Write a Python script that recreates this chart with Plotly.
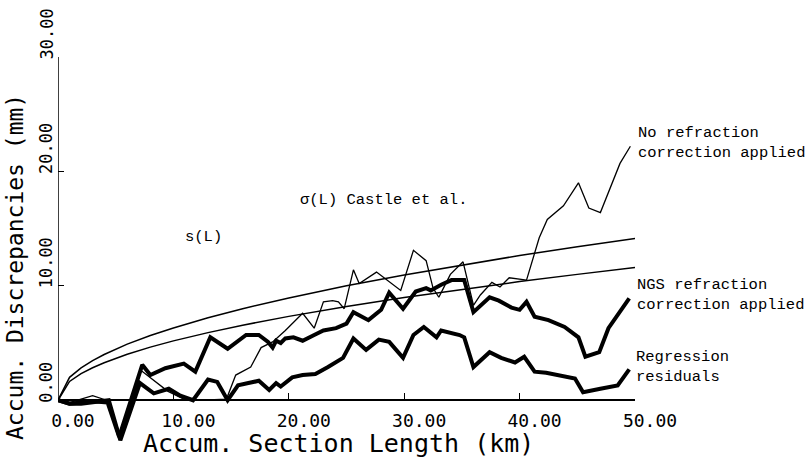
import plotly.graph_objects as go

# ---- data ----
no_refr_x = [0, 1.0, 2.0, 3.0, 4.2, 5.4, 7.2, 9.5, 10.9, 12.5, 14.6, 15.4, 16.7, 17.6, 18.6, 19.7,
             21.2, 22.2, 23.0, 23.8, 24.3, 24.8, 25.6, 26.1, 27.6, 29.7, 30.8, 31.9, 32.5, 33.0,
             33.4, 34.0, 35.1, 36.0, 36.6, 37.6, 38.3, 39.1, 40.6, 41.7, 42.4, 43.8, 45.1, 46.0,
             47.0, 48.7, 49.6]
no_refr_y = [0, -0.2, 0.1, 0.4, 0.0, -3.0, 2.6, 0.8, 0.1, 0.0, 0.1, 2.2, 2.9, 4.6, 5.1, 6.1,
             7.6, 6.3, 8.6, 8.7, 8.6, 8.0, 11.4, 10.2, 11.2, 9.6, 13.1, 12.2, 9.8, 9.0,
             9.8, 11.0, 12.1, 8.3, 9.2, 10.3, 9.9, 10.7, 10.5, 14.2, 15.8, 17.0, 19.0, 16.8,
             16.4, 20.7, 22.2]

ngs_x = [0, 1.0, 2.0, 3.0, 4.3, 5.3, 7.3, 8.0, 9.3, 10.9, 11.9, 13.2, 14.7, 15.4, 16.3, 17.4,
         18.2, 18.6, 18.9, 19.3, 19.7, 20.4, 21.2, 22.2, 23.0, 24.1, 25.0, 25.6, 26.9, 28.0,
         28.7, 29.9, 31.0, 31.9, 32.3, 33.2, 34.1, 35.2, 36.0, 37.4, 38.2, 39.3, 40.0, 40.6,
         41.3, 42.5, 43.9, 45.1, 45.7, 46.9, 47.7, 49.5]
ngs_y = [0, -0.3, -0.2, -0.1, -0.2, -3.2, 3.1, 2.2, 2.8, 3.2, 2.5, 5.5, 4.5, 5.0, 5.7, 5.7,
         5.1, 4.6, 5.2, 5.0, 5.4, 5.5, 5.2, 5.7, 6.1, 6.3, 6.7, 7.7, 7.0, 7.9,
         9.4, 8.0, 9.5, 9.8, 9.6, 10.1, 10.5, 10.5, 7.7, 9.0, 8.7, 8.1, 7.9, 8.6,
         7.3, 7.0, 6.4, 5.5, 3.8, 4.2, 6.3, 8.9]

resid_x = [0, 1.0, 2.0, 3.0, 4.4, 5.4, 7.1, 8.3, 9.6, 10.6, 11.7, 13.0, 13.8, 14.7, 15.6, 16.5,
           17.4, 18.3, 18.9, 19.3, 20.3, 21.2, 22.3, 23.4, 24.7, 25.6, 26.7, 27.8, 28.7, 29.9,
           30.8, 31.7, 32.8, 33.2, 34.8, 35.2, 36.0, 37.4, 38.4, 39.6, 40.4, 41.3, 42.3, 44.8,
           45.5, 47.0, 48.5, 49.5]
resid_y = [0, -0.3, -0.3, -0.2, 0.0, -3.5, 1.5, 0.6, 1.0, 0.4, 0.0, 1.8, 1.6, 0.0, 1.3, 1.5,
           1.7, 0.9, 1.5, 1.2, 2.0, 2.2, 2.3, 2.9, 3.7, 5.4, 4.4, 5.3, 5.1, 3.7,
           5.7, 6.4, 5.5, 6.1, 5.7, 5.5, 2.9, 4.2, 3.7, 3.3, 3.8, 2.5, 2.4, 1.9,
           0.7, 1.0, 1.3, 2.7]

curve_L = [0, 1, 2, 3, 4, 6, 8, 10, 13, 16, 20, 25, 30, 35, 40, 45, 50]
sigma_castle = [0, 2.0, 2.83, 3.46, 4.0, 4.90, 5.66, 6.32, 7.21, 8.0, 8.94, 10.0, 10.95, 11.83,
                12.65, 13.42, 14.14]
s_L = [0, 1.64, 2.32, 2.84, 3.28, 4.02, 4.64, 5.19, 5.91, 6.56, 7.33, 8.2, 8.98, 9.70,
       10.37, 11.0, 11.6]

x_ticks = [0, 10, 20, 30, 40, 50]
x_tick_labels = ["0.00", "10.00", "20.00", "30.00", "40.00", "50.00"]
y_ticks = [0, 10, 20, 30]
y_tick_labels = ["0.00", "10.00", "20.00", "30.00"]

x_title = "Accum. Section Length (km)"
y_title = "Accum. Discrepancies (mm)"

# ---- figure ----
W, H = 809, 458
L_M, T_M = 58, 57
PW, PH = 577, 389            # plot area: x 58..635, y 57..446
R_M, B_M = W - L_M - PW, H - T_M - PH
Y_MIN, Y_MAX = -4, 30


def px(xpix):
    return (xpix - L_M) / PW


def py(ypix):
    return (H - B_M - ypix) / PH


mono = "DejaVu Sans Mono"
type_font = "Liberation Mono"

fig = go.Figure()
for ys in (sigma_castle, s_L):
    fig.add_trace(go.Scatter(x=curve_L, y=ys, mode="lines",
                             line=dict(color="black", width=1.5), showlegend=False))
fig.add_trace(go.Scatter(x=no_refr_x, y=no_refr_y, mode="lines",
                         line=dict(color="black", width=1.3), showlegend=False))
fig.add_trace(go.Scatter(x=ngs_x, y=ngs_y, mode="lines",
                         line=dict(color="black", width=4), showlegend=False))
fig.add_trace(go.Scatter(x=resid_x, y=resid_y, mode="lines",
                         line=dict(color="black", width=4), showlegend=False))

# y axis line from 0 to 30 only
fig.add_shape(type="line", xref="x", yref="y", x0=0, x1=0, y0=0, y1=30,
              line=dict(color="black", width=1.5))

fig.update_layout(
    width=W, height=H,
    margin=dict(l=L_M, r=R_M, t=T_M, b=B_M),
    paper_bgcolor="white", plot_bgcolor="white",
    xaxis=dict(range=[0, 50], tickvals=x_ticks, ticktext=x_tick_labels,
               ticks="inside", ticklen=6, tickcolor="black", tickwidth=1.2,
               showline=True, linecolor="black", linewidth=1.5,
               anchor="free", position=(0 - Y_MIN) / (Y_MAX - Y_MIN),
               tickfont=dict(family=mono, size=18, color="black"),
               ticklabelshift=15, ticklabelstandoff=4,
               showgrid=False, zeroline=False, automargin=False),
    yaxis=dict(range=[Y_MIN, Y_MAX], tickvals=y_ticks, showticklabels=False,
               ticks="inside", ticklen=6, tickcolor="black", tickwidth=1.2,
               showline=False, showgrid=False, zeroline=False, automargin=False),
)

# y tick labels: rotated, starting at the tick and reading upward
for v, t in zip(y_ticks, y_tick_labels):
    fig.add_annotation(text=t, xref="paper", yref="y", x=px(46), y=v, yshift=-4,
                       xanchor="center", yanchor="bottom", textangle=-90,
                       showarrow=False, borderpad=0,
                       font=dict(family=mono, size=17, color="black"))

ann = [
    dict(text=x_title, x=px(338), y=py(443), font=dict(family=mono, size=25)),
    dict(text=y_title, x=px(15), y=py(267), textangle=-90, font=dict(family=mono, size=23)),
    dict(text="No refraction<br>correction applied", x=px(636), y=py(143), xanchor="left",
         align="left", font=dict(family=type_font, size=15.5)),
    dict(text="NGS refraction<br>correction applied", x=px(635), y=py(295), xanchor="left",
         align="left", font=dict(family=type_font, size=15.5)),
    dict(text="Regression<br>residuals", x=px(634), y=py(367), xanchor="left",
         align="left", font=dict(family=type_font, size=15.5)),
    dict(text="σ(L) Castle et al.", x=px(298), y=py(200), xanchor="left",
         font=dict(family=type_font, size=15.5)),
    dict(text="s(L)", x=px(183), y=py(237), xanchor="left",
         font=dict(family=type_font, size=15.5)),
]
for a in ann:
    a.setdefault("xanchor", "center")
    a.setdefault("yanchor", "middle")
    a["font"]["color"] = "black"
    fig.add_annotation(xref="paper", yref="paper", showarrow=False, **a)

# remove the browser's default 8px page margin so the figure sits at (0, 0)
fig.write_html("out.html", config={"displayModeBar": False},
               post_script="document.body.style.margin='0';")
